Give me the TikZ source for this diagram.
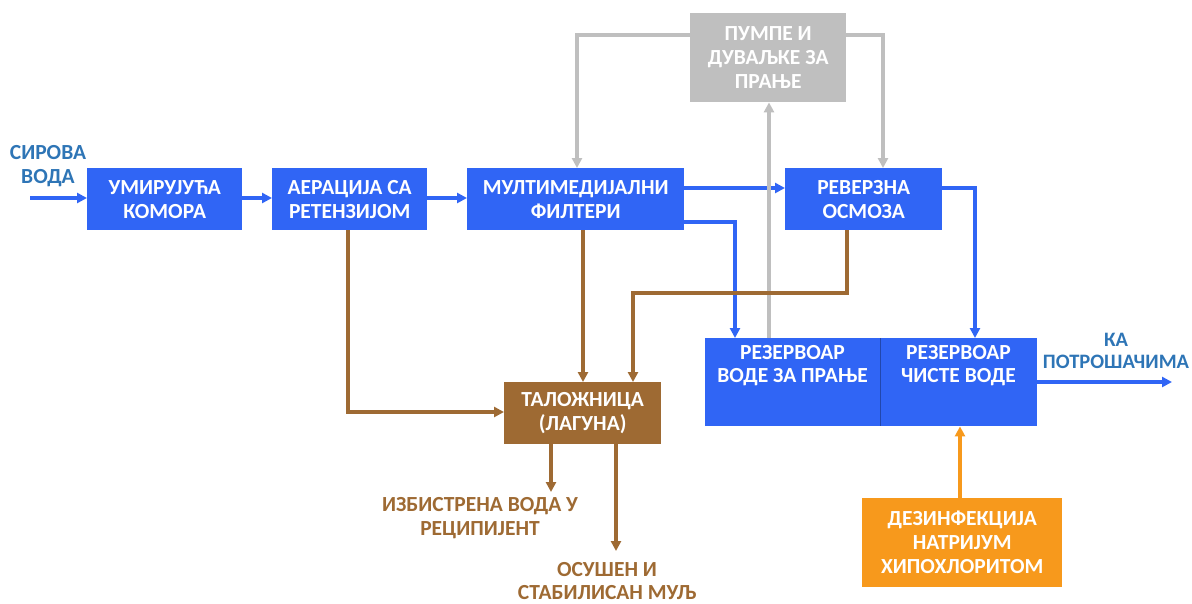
\documentclass[tikz,border=0pt]{standalone}
\usepackage{fontspec}
\setmainfont{Carlito}
\usetikzlibrary{arrows.meta}
\definecolor{boxblue}{HTML}{3065F5}
\definecolor{lblblue}{HTML}{2E75B6}
\definecolor{pgray}{HTML}{BFBFBF}
\definecolor{brn}{HTML}{9E6A33}
\definecolor{orng}{HTML}{F7991C}
\tikzset{
  blk/.style={draw=none, fill=#1, text=white, font=\bfseries\fontsize{21.5}{24}\selectfont, align=center, inner sep=0pt, anchor=north west},
  arr/.style={draw=#1, line width=3.2pt, -{Triangle[length=10pt,width=10pt]}},
  lbl/.style={text=#1, font=\bfseries\fontsize{21.5}{23.5}\selectfont, align=center, inner sep=0pt}
}
\begin{document}
\begin{tikzpicture}[x=1pt,y=-1pt]
\useasboundingbox (0,0) rectangle (1192,603);
% boxes
\node[blk=boxblue, minimum width=155pt, minimum height=62pt] (um) at (87,168) {УМИРУЈУЋА\\КОМОРА};
\node[blk=boxblue, minimum width=155pt, minimum height=62pt] (ae) at (272,168) {АЕРАЦИЈА СА\\РЕТЕНЗИЈОМ};
\node[blk=boxblue, minimum width=217pt, minimum height=62pt] (mf) at (467,168) {МУЛТИМЕДИЈАЛНИ\\ФИЛТЕРИ};
\node[blk=boxblue, minimum width=157pt, minimum height=62pt] (ro) at (785,168) {РЕВЕРЗНА\\ОСМОЗА};
\node[blk=pgray, minimum width=156pt, minimum height=89pt] (pu) at (690,13) {ПУМПЕ И\\ДУВАЉКЕ ЗА\\ПРАЊЕ};
\node[blk=boxblue, minimum width=175pt, minimum height=88pt] (rw) at (705,338) {};
\node[blk=boxblue, minimum width=157pt, minimum height=88pt] (rc) at (880,338) {};
\draw[boxblue!70!black, line width=0.6pt] (rc.north west) -- (rc.south west);
\node[lbl=white, anchor=north] (rwt) at (792.5,345) {РЕЗЕРВОАР\\ВОДЕ ЗА ПРАЊЕ};
\node[lbl=white, anchor=north] (rct) at (958.5,345) {РЕЗЕРВОАР\\ЧИСТЕ ВОДЕ};
\node[blk=brn, minimum width=157pt, minimum height=62pt] (ta) at (504,382) {ТАЛОЖНИЦА\\(ЛАГУНА)};
\node[blk=orng, minimum width=200pt, minimum height=89pt] (de) at (862,498) {ДЕЗИНФЕКЦИЈА\\НАТРИЈУМ\\ХИПОХЛОРИТОМ};
% labels
\node[lbl=lblblue] (sv) at (48,166) {СИРОВА\\ВОДА};
\node[lbl=lblblue, font=\bfseries\fontsize{20.5}{22}\selectfont] (kp) at (1116,351) {КА\\ПОТРОШАЧИМА};
\node[lbl=brn] (iz) at (480,518) {ИЗБИСТРЕНА ВОДА У\\РЕЦИПИЈЕНТ};
\node[lbl=brn] (os) at (607,581) {ОСУШЕН И\\СТАБИЛИСАН МУЉ};
% coordinates
\coordinate (in) at (30,198);
\coordinate (out) at (1172,382);
\coordinate (e1) at (551,492);
\coordinate (e2) at (616,551);
% blue flow
\draw[arr=boxblue] (in) -- (um.west |- in);
\draw[arr=boxblue] (um.east |- in) -- (ae.west |- in);
\draw[arr=boxblue] (ae.east |- in) -- (mf.west |- in);
\draw[arr=boxblue] (mf.east |- 0,188) -- (ro.west |- 0,188);
\draw[arr=boxblue] (mf.east |- 0,222) -- (735,222) -- (rw.north -| 735,0);
\draw[arr=boxblue] (ro.east |- 0,188) -- (975,188) -- (rc.north -| 975,0);
\draw[arr=boxblue] (rc.east |- out) -- (out);
% gray
\draw[arr=pgray] (pu.west |- 0,35) -- (577,35) -- (mf.north -| 577,0);
\draw[arr=pgray] (pu.east |- 0,35) -- (883,35) -- (ro.north -| 883,0);
\draw[arr=pgray] (rw.north -| 769,0) -- (pu.south -| 769,0);
% brown
\draw[arr=brn] (ae.south -| 348,0) -- (348,412) -- (ta.west |- 0,412);
\draw[arr=brn] (mf.south -| 583,0) -- (ta.north -| 583,0);
\draw[arr=brn] (ro.south -| 847,0) -- (847,293) -- (633,293) -- (ta.north -| 633,0);
\draw[arr=brn] (ta.south -| e1) -- (e1);
\draw[arr=brn] (ta.south -| e2) -- (e2);
% orange
\draw[arr=orng] (de.north -| 960,0) -- (rc.south -| 960,0);
\end{tikzpicture}
\end{document}
